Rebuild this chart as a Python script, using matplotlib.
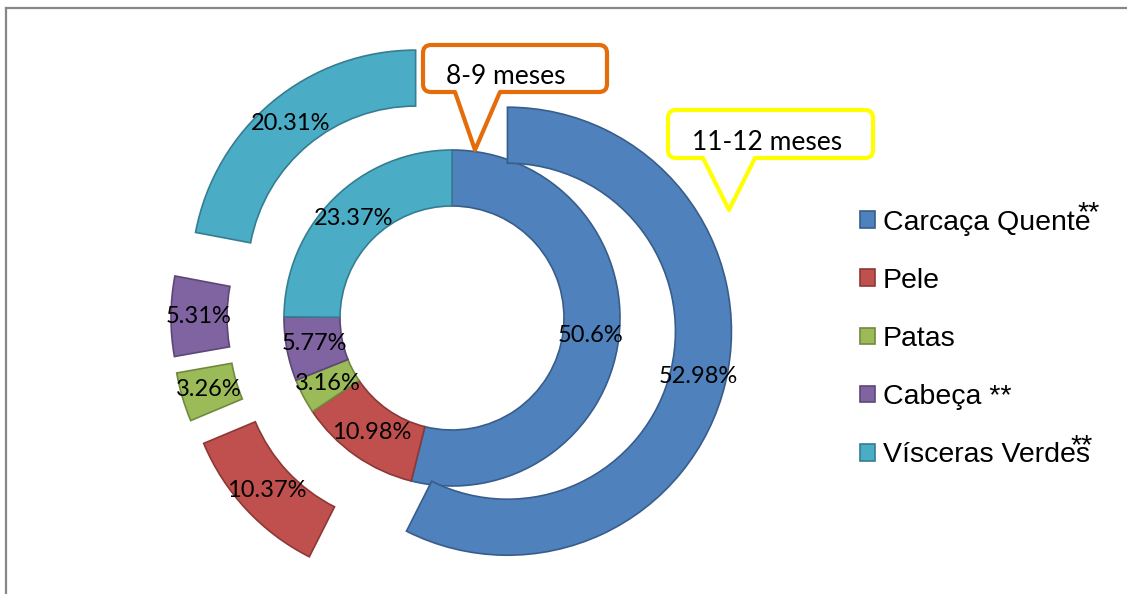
import matplotlib
matplotlib.use("Agg")
import matplotlib.pyplot as plt
from matplotlib.path import Path
from matplotlib.patches import PathPatch
from matplotlib.lines import Line2D

# composition by age group (%)
categories = ["Carcaça Quente", "Pele", "Patas", "Cabeça **", "Vísceras Verdes"]
starred = [True, False, False, False, True]
meses_8_9 = [50.6, 10.98, 3.16, 5.77, 23.37]
meses_11_12 = [52.98, 10.37, 3.26, 5.31, 20.31]
ring_names = ["8-9 meses", "11-12 meses"]

fill = ["#4F81BD", "#C0504D", "#9BBB59", "#8064A2", "#4BACC6"]
edge = ["#385D8A", "#8C3836", "#71893F", "#5C4776", "#357D91"]

W, H = 1127, 594
fig = plt.figure(figsize=(W / 100, H / 100), dpi=100)
ax = fig.add_axes([0, 0, 1, 1])

cx, cy = 452, H - 318
ring = 56
r_in, r_out = 168, 224
expl = 57
lbl_font = dict(fontsize=17, family="Lato", color="black")


def donut(values, radius, explode):
    wedges, texts = ax.pie(values, radius=radius, center=(cx, cy), startangle=90,
                           counterclock=False, colors=fill, explode=[explode] * len(values),
                           labels=[f"{v:g}%" for v in values],
                           labeldistance=(radius - ring / 2) / radius,
                           wedgeprops=dict(width=ring, linewidth=1.2),
                           textprops=lbl_font)
    for w, ec in zip(wedges, edge):
        w.set_edgecolor(ec)
    for t in texts:
        t.set_ha("center")
        t.set_va("center")
    return wedges


inner = donut(meses_8_9, r_in, 0)
outer = donut(meses_11_12, r_out, expl)

ax.set_xlim(0, W)
ax.set_ylim(0, H)
ax.set_aspect("equal")
ax.axis("off")


# callout box with a pointer hanging from its bottom edge
def callout(text, x0, x1, y0, y1, bx0, bx1, tip, color, text_xy):
    r = 8
    verts = [(x0 + r, y0), (bx0, y0), tip, (bx1, y0), (x1 - r, y0),
             (x1, y0), (x1, y0 + r), (x1, y1 - r), (x1, y1), (x1 - r, y1),
             (x0 + r, y1), (x0, y1), (x0, y1 - r), (x0, y0 + r), (x0, y0),
             (x0 + r, y0)]
    codes = [Path.MOVETO, Path.LINETO, Path.LINETO, Path.LINETO, Path.LINETO,
             Path.CURVE3, Path.CURVE3, Path.LINETO, Path.CURVE3, Path.CURVE3,
             Path.LINETO, Path.CURVE3, Path.CURVE3, Path.LINETO, Path.CURVE3,
             Path.CURVE3]
    ax.add_patch(PathPatch(Path(verts, codes), facecolor="white", edgecolor=color,
                           linewidth=3, joinstyle="round", zorder=5))
    ax.text(*text_xy, text, ha="center", va="center", zorder=6,
            fontsize=19, family="Lato", color="black")


callout(ring_names[0], 423, 607, H - 92, H - 45, 455, 500, (475, H - 150),
        "#E46C0A", (506, H - 77))
callout(ring_names[1], 668, 873, H - 158, H - 110, 703, 755, (729, H - 210),
        "#FFFF00", (767, H - 143))

leg = ax.legend(inner, categories, loc="upper left", bbox_to_anchor=(0.763, 0.647),
                frameon=False, prop=dict(family="Liberation Sans", size=20.5),
                handlelength=0.52, handleheight=0.52, handletextpad=0.28,
                labelspacing=1.13, borderpad=0, borderaxespad=0)

# superscript stars next to the legend entries
fig.canvas.draw()
star_dx = {0: -13, 4: -19}
for i, t in enumerate(leg.get_texts()):
    if starred[i]:
        bb = t.get_window_extent()
        x, y = ax.transData.inverted().transform((bb.x1 + star_dx[i], bb.y1 + 9))
        ax.text(x, y, "**", ha="left", va="top", family="Liberation Sans", fontsize=20.5)

# chart frame
fig.add_artist(Line2D([6 / W, 6 / W], [0, 1 - 8 / H], color="#878787", lw=1.6))
fig.add_artist(Line2D([6 / W, 1], [1 - 8 / H, 1 - 8 / H], color="#878787", lw=1.6))

fig.savefig("out.png", dpi=100)
